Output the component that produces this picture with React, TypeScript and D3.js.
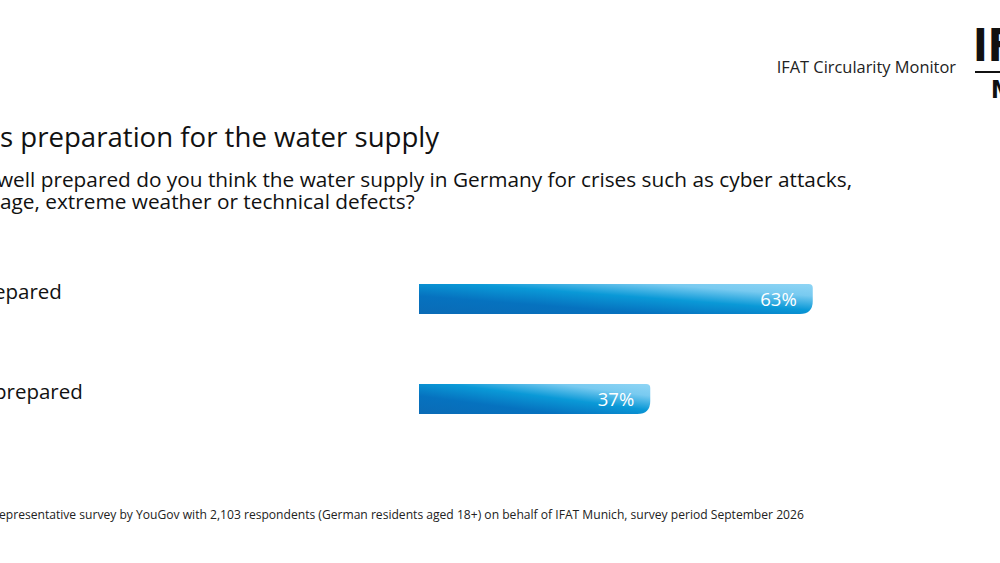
import * as d3 from "d3";
import { useEffect, useRef } from "react";

const CATEGORIES: string[] = ["epared", "prepared"];
const VALUES: number[] = [63, 37];
const TITLE = "s preparation for the water supply";
const SUBTITLE: string[] = [
  "well prepared do you think the water supply in Germany for crises such as cyber attacks,",
  "age, extreme weather or technical defects?",
];
const SOURCE =
  "epresentative survey by YouGov with 2,103 respondents (German residents aged 18+) on behalf of IFAT Munich, survey period September 2026";

const W = 1000;
const H = 563;
const FONT = "'Open Sans', Lato, sans-serif";

// rectangle with square left corners, small top-right and large bottom-right radius
function barPath(x: number, y: number, w: number, h: number, rt: number, rb: number) {
  return `M${x},${y}H${x + w - rt}Q${x + w},${y} ${x + w},${y + rt}V${y + h - rb}Q${x + w},${y + h} ${x + w - rb},${y + h}H${x}Z`;
}

export default function App() {
  const ref = useRef<SVGSVGElement | null>(null);

  useEffect(() => {
    if (!ref.current) return;
    const svg = d3.select(ref.current);
    svg.selectAll("*").remove();

    const defs = svg.append("defs");
    const grad = defs
      .append("linearGradient")
      .attr("id", "barGrad")
      .attr("x1", 0)
      .attr("y1", 1)
      .attr("x2", 1)
      .attr("y2", 0);
    grad.append("stop").attr("offset", "0%").attr("stop-color", "#0a6bb6");
    grad.append("stop").attr("offset", "30%").attr("stop-color", "#0672bf");
    grad.append("stop").attr("offset", "56%").attr("stop-color", "#0a99d7");
    grad.append("stop").attr("offset", "80%").attr("stop-color", "#78caf0");
    grad.append("stop").attr("offset", "100%").attr("stop-color", "#8fd5f5");

    const x = d3.scaleLinear().domain([0, 100]).range([419, 1044]);
    const y = d3
      .scaleBand<string>()
      .domain(CATEGORIES)
      .range([249, 449])
      .paddingInner(0.7)
      .paddingOuter(0.35);

    // header
    svg
      .append("text")
      .attr("x", 956)
      .attr("y", 73)
      .attr("text-anchor", "end")
      .attr("font-family", FONT)
      .attr("font-size", 16.4)
      .attr("fill", "#222")
      .text("IFAT Circularity Monitor");

    // logo fragment
    const logo = svg.append("g");
    logo
      .append("text")
      .attr("x", 973)
      .attr("y", 61)
      .attr("font-family", "'DejaVu Sans Condensed', 'DejaVu Sans', sans-serif")
      .attr("font-weight", 900)
      .attr("font-size", 44)
      .attr("fill", "#111")
      .text("IF");
    logo.append("rect").attr("x", 975).attr("y", 71).attr("width", 25).attr("height", 2).attr("fill", "#111");
    logo
      .append("text")
      .attr("x", 991)
      .attr("y", 98)
      .attr("font-family", "'DejaVu Sans Condensed', 'DejaVu Sans', sans-serif")
      .attr("font-weight", 700)
      .attr("font-size", 24)
      .attr("fill", "#111")
      .text("M");

    // title + subtitle
    svg
      .append("text")
      .attr("x", 0)
      .attr("y", 147)
      .attr("font-family", FONT)
      .attr("font-size", 27.6)
      .attr("fill", "#111")
      .text(TITLE);
    SUBTITLE.forEach((line, i) => {
      svg
        .append("text")
        .attr("x", i === 0 ? -3 : 0)
        .attr("y", 187 + i * 21.5)
        .attr("font-family", FONT)
        .attr("font-size", 20.8)
        .attr("fill", "#111")
        .text(line);
    });

    // category labels
    svg
      .selectAll("text.cat")
      .data(CATEGORIES)
      .enter()
      .append("text")
      .attr("class", "cat")
      .attr("x", -6)
      .attr("y", (d) => (y(d) as number) + 15)
      .attr("font-family", FONT)
      .attr("font-size", 20.5)
      .attr("fill", "#111")
      .text((d) => d);

    // bars
    const bars = svg
      .selectAll("g.bar")
      .data(VALUES)
      .enter()
      .append("g")
      .attr("class", "bar");
    bars
      .append("path")
      .attr("d", (d, i) =>
        barPath(x(0), y(CATEGORIES[i]) as number, x(d) - x(0), y.bandwidth(), 4, 13)
      )
      .attr("fill", "url(#barGrad)");
    bars
      .append("text")
      .attr("x", (d) => x(d) - 16)
      .attr("y", (d, i) => (y(CATEGORIES[i]) as number) + y.bandwidth() / 2 + 7)
      .attr("text-anchor", "end")
      .attr("font-family", FONT)
      .attr("font-size", 18.5)
      .attr("fill", "#fff")
      .text((d) => `${d}%`);

    // source
    svg
      .append("text")
      .attr("x", -1)
      .attr("y", 519)
      .attr("font-family", FONT)
      .attr("font-size", 12.1)
      .attr("fill", "#222")
      .text(SOURCE);
  }, []);

  return (
    <svg
      ref={ref}
      width={W}
      height={H}
      style={{ position: "absolute", left: 0, top: 0, background: "#fff" }}
    />
  );
}
